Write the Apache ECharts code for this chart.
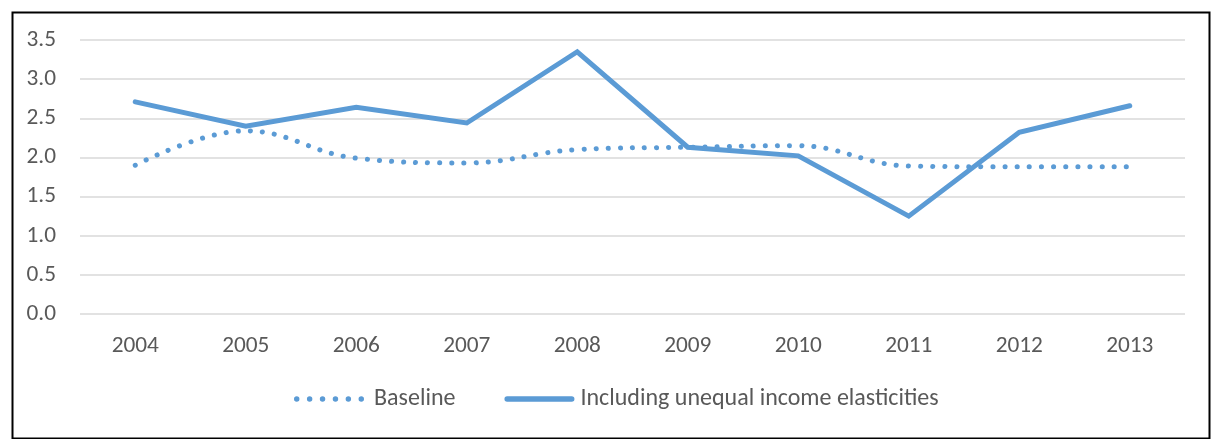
<!DOCTYPE html>
<html>
<head>
<meta charset="utf-8">
<script src="https://cdn.jsdelivr.net/npm/echarts@6/dist/echarts.min.js"></script>
<style>
  html, body { margin: 0; padding: 0; background: #fff; }
  #chart { width: 1212px; height: 439px; }
</style>
</head>
<body>
<div id="chart"></div>
<script>
// Years on the horizontal axis
const years = ['2004', '2005', '2006', '2007', '2008', '2009', '2010', '2011', '2012', '2013'];
// Series values
const baseline = [1.90, 2.34, 1.99, 1.93, 2.10, 2.13, 2.15, 1.89, 1.88, 1.88];
const unequalElasticities = [2.71, 2.40, 2.64, 2.44, 3.35, 2.13, 2.02, 1.25, 2.32, 2.66];
const seriesNames = ['Baseline', 'Including unequal income elasticities'];

const blue = '#5B9BD5';
const textColor = '#595959';
const fontFamily = 'Carlito, Lato, "Open Sans", sans-serif';

// Legend keys: a row of six round dots, and a round-capped bar
function dotRowPath(count, r, step) {
  let d = '';
  for (let i = 0; i < count; i++) {
    const cx = r + i * step;
    d += 'M' + (cx - r) + ',' + r + ' a' + r + ',' + r + ' 0 1,0 ' + (2 * r) + ',0 a' + r + ',' + r + ' 0 1,0 ' + (-2 * r) + ',0 Z ';
  }
  return 'path://' + d;
}
const dottedIcon = dotRowPath(6, 2.7, 12.8);
const solidIcon = 'path://M2.7,0 L67.3,0 A2.7,2.7 0 0,1 67.3,5.4 L2.7,5.4 A2.7,2.7 0 0,1 2.7,0 Z';

const chart = echarts.init(document.getElementById('chart'), null, { renderer: 'canvas' });
chart.setOption({
  animation: false,
  backgroundColor: '#fff',
  graphic: [{
    type: 'rect',
    left: 10, top: 10,
    shape: { width: 1197, height: 426 },
    style: { fill: 'none', stroke: '#000', lineWidth: 2 },
    silent: true
  }],
  grid: { left: 80, right: 27, top: 40, bottom: 125 },
  legend: {
    top: 382,
    left: 289,
    itemWidth: 70,
    itemHeight: 6,
    itemGap: 49,
    textStyle: { color: textColor, fontSize: 24, fontFamily: fontFamily },
    data: [
      { name: seriesNames[0], icon: dottedIcon, itemStyle: { color: blue },
        textStyle: { padding: [0, 0, 0, 5] } },
      { name: seriesNames[1], icon: solidIcon, itemStyle: { color: blue },
        textStyle: { padding: [0, 0, 0, 1] } }
    ]
  },
  xAxis: {
    type: 'category',
    data: years,
    boundaryGap: true,
    axisLine: { show: false },
    axisTick: { show: false },
    axisLabel: { color: textColor, fontSize: 23.3, fontFamily: fontFamily, margin: 21 }
  },
  yAxis: {
    type: 'value',
    min: 0, max: 3.5, interval: 0.5,
    axisLine: { show: false },
    axisTick: { show: false },
    axisLabel: {
      color: textColor, fontSize: 23.3, fontFamily: fontFamily, margin: 24,
      formatter: v => v.toFixed(1)
    },
    splitLine: { lineStyle: { color: '#D9D9D9', width: 1.5 } }
  },
  series: [
    {
      name: seriesNames[0],
      type: 'line',
      data: baseline,
      smooth: 0.4,
      showSymbol: false,
      symbol: 'none',
      itemStyle: { color: blue },
      lineStyle: { color: blue, width: 5, type: [0.1, 12], cap: 'round' }
    },
    {
      name: seriesNames[1],
      type: 'line',
      data: unequalElasticities,
      showSymbol: false,
      symbol: 'none',
      itemStyle: { color: blue },
      lineStyle: { color: blue, width: 5, cap: 'round', join: 'miter' }
    }
  ]
});
</script>
</body>
</html>
